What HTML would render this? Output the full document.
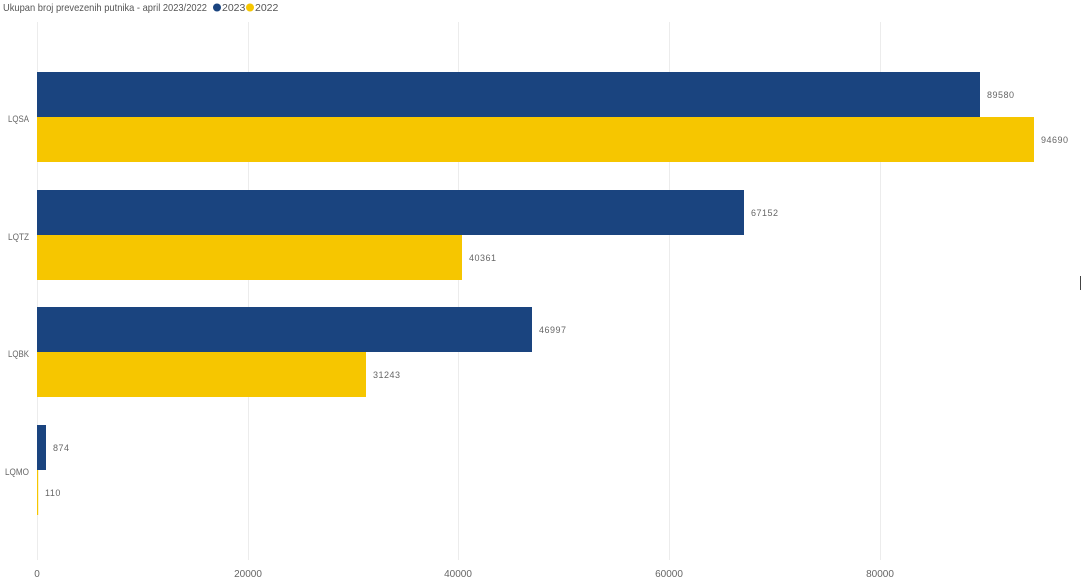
<!DOCTYPE html>
<html><head><meta charset="utf-8"><style>
html,body{margin:0;padding:0;background:#fff;}
svg{display:block;font-family:"Liberation Sans",sans-serif;}
</style></head><body>
<svg width="1081" height="582" xmlns="http://www.w3.org/2000/svg">
<text x="3" y="11" font-size="10.5" fill="#555" textLength="204" lengthAdjust="spacingAndGlyphs">Ukupan broj prevezenih putnika - april 2023/2022</text>
<circle cx="217" cy="7.5" r="4" fill="#1a447f"/>
<text x="222" y="11" font-size="10.5" fill="#555">2023</text>
<circle cx="250" cy="7.5" r="4" fill="#f6c600"/>
<text x="255" y="11" font-size="10.5" fill="#555">2022</text>
<g stroke="#ececec" stroke-width="1">
<line x1="37.5" y1="22" x2="37.5" y2="560"/>
<line x1="248.5" y1="22" x2="248.5" y2="560"/>
<line x1="458.5" y1="22" x2="458.5" y2="560"/>
<line x1="669.5" y1="22" x2="669.5" y2="560"/>
<line x1="880.5" y1="22" x2="880.5" y2="560"/>
</g>
<g font-size="10" fill="#666" text-anchor="middle">
<text x="37" y="577">0</text>
<text x="248" y="577">20000</text>
<text x="458" y="577">40000</text>
<text x="669" y="577">60000</text>
<text x="880" y="577">80000</text>
</g>
<g font-size="9.5" fill="#666">
<text x="8" y="122" textLength="21" lengthAdjust="spacingAndGlyphs">LQSA</text>
<text x="8" y="240" textLength="21" lengthAdjust="spacingAndGlyphs">LQTZ</text>
<text x="8" y="357" textLength="21" lengthAdjust="spacingAndGlyphs">LQBK</text>
<text x="5" y="475" textLength="24" lengthAdjust="spacingAndGlyphs">LQMO</text>
</g>
<rect x="37" y="72" width="943" height="45" fill="#1a447f"/>
<rect x="37" y="117" width="997" height="45" fill="#f6c600"/>
<rect x="37" y="190" width="707" height="45" fill="#1a447f"/>
<rect x="37" y="235" width="425" height="45" fill="#f6c600"/>
<rect x="37" y="307" width="495" height="45" fill="#1a447f"/>
<rect x="37" y="352" width="329" height="45" fill="#f6c600"/>
<rect x="37" y="425" width="9" height="45" fill="#1a447f"/>
<rect x="37" y="470" width="1.2" height="45" fill="#f6c600"/>
<g font-size="9" fill="#666" letter-spacing="0.5">
<text x="987" y="98">89580</text>
<text x="1041" y="143">94690</text>
<text x="751" y="216">67152</text>
<text x="469" y="261">40361</text>
<text x="539" y="333">46997</text>
<text x="373" y="378">31243</text>
<text x="53" y="451">874</text>
<text x="45" y="496">110</text>
</g>
<line x1="1080.5" y1="276" x2="1080.5" y2="290" stroke="#444"/>
</svg>
</body></html>
